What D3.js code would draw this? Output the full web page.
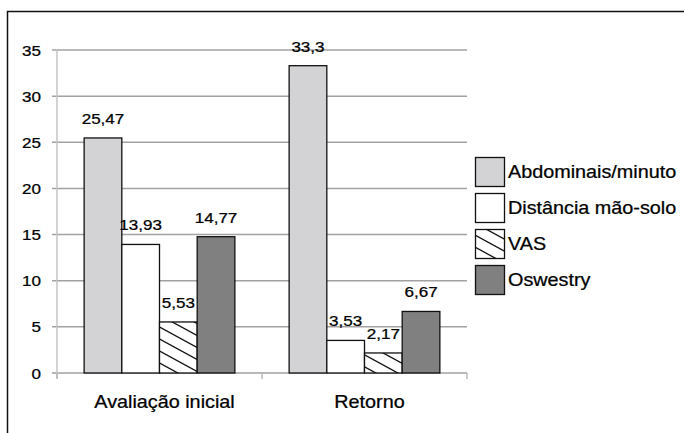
<!DOCTYPE html>
<html>
<head>
<meta charset="utf-8">
<script src="https://cdn.jsdelivr.net/npm/d3@7"></script>
<style>
  body { margin: 0; background: #fff; }
  text { font-family: "Liberation Sans", Arial, Helvetica, sans-serif; fill: #000; stroke: #000; stroke-width: 0.25px; }
</style>
</head>
<body>
<div id="chart"></div>
<script>
var categories = ["Avaliação inicial", "Retorno"];
var series = ["Abdominais/minuto", "Distância mão-solo", "VAS", "Oswestry"];
var abdominais = [25.47, 33.3];
var distancia = [13.93, 3.53];
var vas = [5.53, 2.17];
var oswestry = [14.77, 6.67];
var yTicks = [0, 5, 10, 15, 20, 25, 30, 35];

var values = [abdominais, distancia, vas, oswestry];
var fills = ["#d3d3d5", "#ffffff", "url(#hatch)", "#808080"];
var fmt = function(v) { return String(v).replace(".", ","); };
var sx = 1.1; // the picture is a bit stretched sideways

var width = 684, height = 433;
var svg = d3.select("#chart").append("svg").attr("width", width).attr("height", height);

var pat = svg.append("defs").append("pattern").attr("id", "hatch")
  .attr("patternUnits", "userSpaceOnUse").attr("width", 22).attr("height", 12);
pat.append("rect").attr("width", 22).attr("height", 12).attr("fill", "#fff");
pat.append("path").attr("d", "M-22,-12L44,24M-22,0L22,24M0,-12L44,12")
  .attr("stroke", "#111").attr("stroke-width", 1.3);

// frame
svg.append("path").attr("d", "M7.5,440V11.5H690").attr("fill", "none")
  .attr("stroke", "#111").attr("stroke-width", 1.5);

var x0 = d3.scaleBand().domain(categories).range([57, 467]);
var x1 = d3.scaleBand().domain(series).range([0, x0.bandwidth()]).paddingOuter(0.72);
var y = d3.scaleLinear().domain([0, 35]).range([373, 50]);

// grid
svg.append("g").selectAll("line").data(yTicks).enter().append("line")
  .attr("x1", 52).attr("x2", 467).attr("y1", function(d) { return y(d); }).attr("y2", function(d) { return y(d); })
  .attr("stroke", "#a2a2a2").attr("stroke-width", 1.5);
svg.append("line").attr("x1", 57).attr("x2", 57).attr("y1", y(35)).attr("y2", y(0) + 5)
  .attr("stroke", "#c4c4c4").attr("stroke-width", 1.5);
svg.append("g").selectAll("line").data([57, 262, 467]).enter().append("line")
  .attr("x1", function(d) { return d; }).attr("x2", function(d) { return d; })
  .attr("y1", y(0)).attr("y2", y(0) + 6).attr("stroke", "#b8b8b8").attr("stroke-width", 1.5);

function label(g, x, yy, txt, size, anchor) {
  return g.append("text").attr("transform", "translate(" + x + "," + yy + ") scale(" + sx + ",1)")
    .attr("text-anchor", anchor || "middle").style("font-size", size + "px").text(txt);
}

var ax = svg.append("g");
yTicks.forEach(function(t) { label(ax, 41, y(t) + 5.5, t, 15.5, "end"); });
categories.forEach(function(c) { label(ax, x0(c) + x0.bandwidth() / 2 + 5, 408, c, 18); });

// bars
var bars = svg.append("g");
categories.forEach(function(c, ci) {
  series.forEach(function(s, si) {
    var v = values[si][ci];
    bars.append("rect")
      .attr("x", x0(c) + x1(s)).attr("y", y(v))
      .attr("width", x1.bandwidth()).attr("height", y(0) - y(v))
      .attr("fill", fills[si]).attr("stroke", "#111").attr("stroke-width", 1.3);
    label(bars, x0(c) + x1(s) + x1.bandwidth() / 2, y(v) - 14, fmt(v), 15.5);
  });
});

// legend
var leg = svg.append("g");
series.forEach(function(s, i) {
  var ly = 157 + i * 36;
  leg.append("rect").attr("x", 475.5).attr("y", ly + 0.5).attr("width", 29).attr("height", 29)
    .attr("fill", fills[i]).attr("stroke", "#111").attr("stroke-width", 1.3);
  label(leg, 508, ly + 21, s, 18, "start");
});
</script>
</body>
</html>
